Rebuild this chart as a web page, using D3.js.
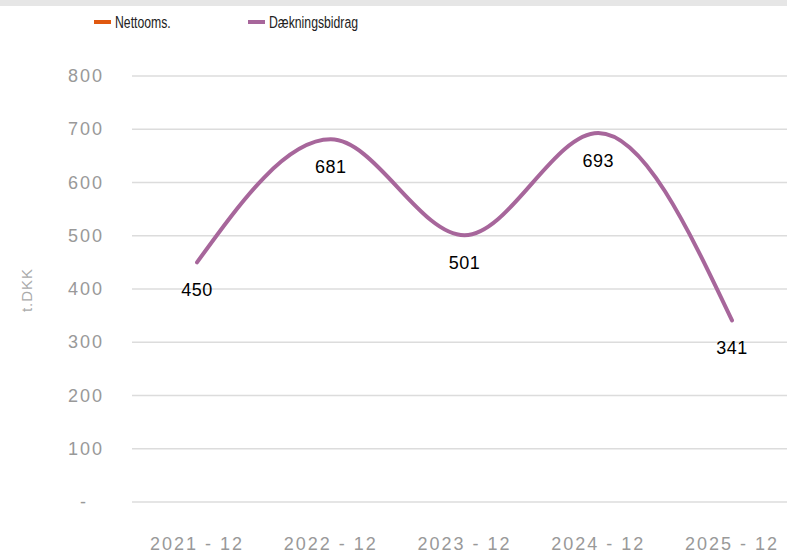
<!DOCTYPE html>
<meta charset="utf-8">
<title>Dækningsbidrag</title>
<style>
  body { margin: 0; background: #fff; font-family: "Liberation Sans", Arial, sans-serif; }
  .grid line { stroke: #dcdcdc; stroke-width: 1.5; }
  .tick-lbl { fill: #999; font-size: 18px; letter-spacing: 2px; }
  .legend-lbl { font-size: 17px; fill: #222; }
</style>
<body>
<svg width="787" height="554" id="chart"></svg>
<script src="https://d3js.org/d3.v7.min.js"></script>
<script>
// data
var periods = ["2021 - 12", "2022 - 12", "2023 - 12", "2024 - 12", "2025 - 12"];
var daekningsbidrag = [450, 681, 501, 693, 341];
var yTicks = [0, 100, 200, 300, 400, 500, 600, 700, 800];
var legendNames = ["Nettooms.", "Dækningsbidrag"];
var legendColors = ["#e0580f", "#a7669b"];

var svg = d3.select("#chart");

// grey strip at the top
svg.append("rect").attr("x", 0).attr("y", 0).attr("width", 787).attr("height", 6).attr("fill", "#e6e6e6");

var x = d3.scalePoint().domain(periods).range([197, 732]);
var y = d3.scaleLinear().domain([0, 800]).range([502, 76]);

// gridlines
svg.append("g").attr("class", "grid")
  .selectAll("line").data(yTicks).enter().append("line")
    .attr("x1", 132).attr("x2", 787)
    .attr("y1", function(d) { return y(d); })
    .attr("y2", function(d) { return y(d); });

// y labels
svg.append("g").selectAll("text").data(yTicks).enter().append("text")
    .attr("class", "tick-lbl")
    .attr("x", function(d) { return d === 0 ? 88 : 104; })
    .attr("y", function(d) { return y(d) + 6; })
    .attr("text-anchor", "end")
    .text(function(d) { return d === 0 ? "-" : d; });

// x labels
svg.append("g").selectAll("text").data(periods).enter().append("text")
    .attr("class", "tick-lbl")
    .attr("x", function(d) { return x(d); })
    .attr("y", 550)
    .attr("text-anchor", "middle")
    .text(function(d) { return d; });

// axis title
svg.append("text")
    .attr("transform", "translate(32,290) rotate(-90)")
    .attr("text-anchor", "middle")
    .attr("fill", "#aaa")
    .attr("font-size", "15px")
    .attr("letter-spacing", "1px")
    .text("t.DKK");

// line
var line = d3.line()
    .x(function(d, i) { return x(periods[i]); })
    .y(function(d) { return y(d); })
    .curve(d3.curveMonotoneX);

svg.append("path")
    .datum(daekningsbidrag)
    .attr("fill", "none")
    .attr("stroke", legendColors[1])
    .attr("stroke-width", 4)
    .attr("stroke-linecap", "round")
    .attr("d", line);

// value labels
svg.append("g").selectAll("text").data(daekningsbidrag).enter().append("text")
    .attr("x", function(d, i) { return x(periods[i]); })
    .attr("y", function(d) { return y(d) + 34; })
    .attr("text-anchor", "middle")
    .attr("fill", "#000")
    .attr("font-size", "18px")
    .attr("letter-spacing", "0.5px")
    .text(function(d) { return d; });

// legend (reference font is a narrow face, so squeeze horizontally)
var lg = svg.append("g").selectAll("g").data(legendNames).enter().append("g")
    .attr("transform", function(d, i) { return "translate(" + (i === 0 ? 94 : 248) + ",22)"; });
lg.append("rect").attr("x", 0).attr("y", -2).attr("width", 17).attr("height", 4)
    .attr("fill", function(d, i) { return legendColors[i]; });
lg.append("text").attr("class", "legend-lbl")
    .attr("transform", "translate(21,6) scale(0.72,1)")
    .text(function(d) { return d; });
</script>
</body>
